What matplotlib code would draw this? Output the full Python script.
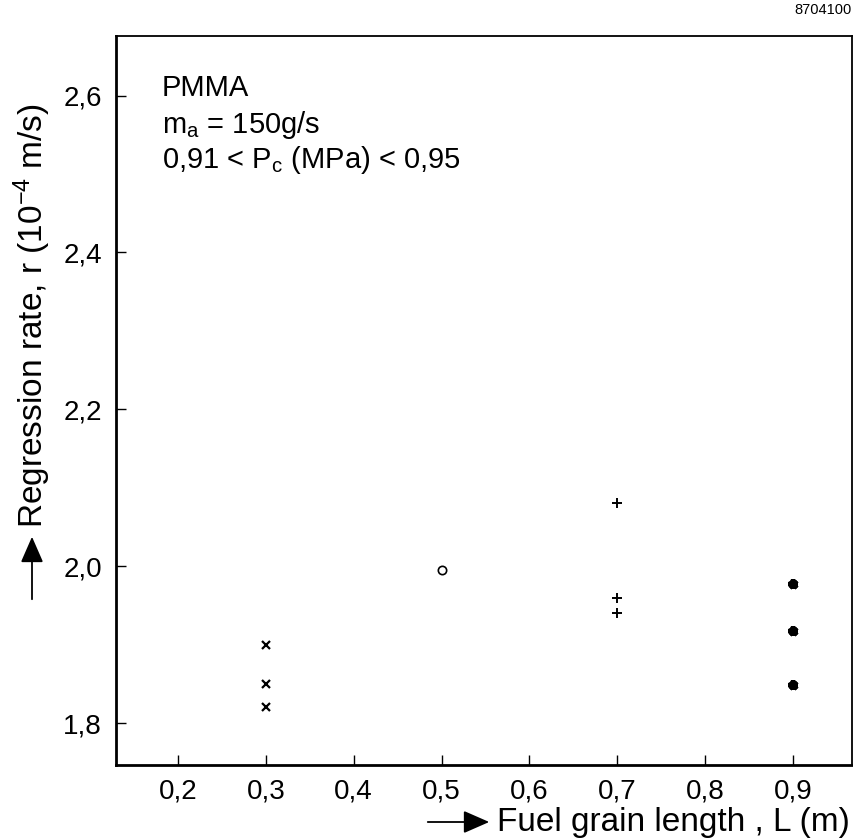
import matplotlib
matplotlib.use("Agg")
import matplotlib.pyplot as plt
from matplotlib.ticker import FixedLocator, FixedFormatter

FONT = ['Liberation Sans', 'DejaVu Sans']
plt.rcParams['font.family'] = FONT
plt.rcParams['mathtext.fontset'] = 'custom'
plt.rcParams['mathtext.rm'] = 'Liberation Sans'
plt.rcParams['mathtext.it'] = 'Liberation Sans'
plt.rcParams['mathtext.bf'] = 'Liberation Sans'

# data
x_cross = [0.3, 0.3, 0.3]
y_cross = [1.90, 1.85, 1.82]
x_circle = [0.5]
y_circle = [1.995]
x_plus = [0.7, 0.7, 0.7]
y_plus = [2.08, 1.96, 1.94]
x_star = [0.9, 0.9, 0.9]
y_star = [1.977, 1.917, 1.848]

xticks = [0.2, 0.3, 0.4, 0.5, 0.6, 0.7, 0.8, 0.9]
xticklabels = ["0,2", "0,3", "0,4", "0,5", "0,6", "0,7", "0,8", "0,9"]
yticks = [1.8, 2.0, 2.2, 2.4, 2.6]
yticklabels = ["1,8", "2,0", "2,2", "2,4", "2,6"]

W, H = 854, 838
fig = plt.figure(figsize=(W / 100, H / 100), dpi=100)
ax = fig.add_axes([116 / W, 1 - 765 / H, (852 - 116) / W, (765 - 36) / H])

ax.plot(x_cross, y_cross, linestyle='none', marker='x', ms=5.5, mew=1.6, color='black')
ax.plot(x_circle, y_circle, linestyle='none', marker='o', ms=6, mew=1.2,
        mfc='white', mec='black')
ax.plot(x_plus, y_plus, linestyle='none', marker='+', ms=7, mew=1.4, color='black')
ax.plot(x_star, y_star, linestyle='none', marker=(4, 2, 0), ms=7, mew=3.0, color='black')
ax.plot(x_star, y_star, linestyle='none', marker=(4, 2, 45), ms=7, mew=3.0, color='black')

ax.set_xlim(0.1295, 0.967)
ax.set_ylim(1.7465, 2.676)

ax.xaxis.set_major_locator(FixedLocator(xticks))
ax.xaxis.set_major_formatter(FixedFormatter(xticklabels))
ax.yaxis.set_major_locator(FixedLocator(yticks))
ax.yaxis.set_major_formatter(FixedFormatter(yticklabels))
ax.tick_params(direction='in', length=7, width=1.0, labelsize=20, pad=10,
               top=False, right=False)

for s in ['left', 'bottom']:
    ax.spines[s].set_linewidth(2.0)
for s in ['top', 'right']:
    ax.spines[s].set_linewidth(1.3)

# annotations inside
ax.text(162 / W, 1 - 88 / H, "PMMA", transform=fig.transFigure, fontsize=21,
        va='center', ha='left')
ax.text(162 / W, 1 - 125 / H, r"m$_{\mathregular{a}}$ = 150g/s", transform=fig.transFigure,
        fontsize=21, va='center', ha='left')
ax.text(162 / W, 1 - 160 / H, r"0,91 < P$_{\mathregular{c}}$ (MPa) < 0,95",
        transform=fig.transFigure, fontsize=21, va='center', ha='left')

# y label with arrow
fig.text(32 / W, 1 - 316 / H, r"Regression rate, r (10$^{-4}$ m/s)", rotation=90,
         fontsize=24, ha='center', va='center')
fig.patches.append(matplotlib.patches.FancyArrowPatch(
    (32 / W, 1 - 602 / H), (32 / W, 1 - 534 / H), transform=fig.transFigure,
    arrowstyle='-|>,head_length=0.8,head_width=0.35', mutation_scale=20,
    color='black', lw=1.3))

# x label with arrow
fig.text(497 / W, 1 - 822 / H, "Fuel grain length , L (m)", fontsize=24,
         ha='left', va='center')
fig.patches.append(matplotlib.patches.FancyArrowPatch(
    (425 / W, 1 - 822 / H), (492 / W, 1 - 822 / H), transform=fig.transFigure,
    arrowstyle='-|>,head_length=0.8,head_width=0.35', mutation_scale=20,
    color='black', lw=1.3))

fig.text(852 / W, 1 - 10 / H, "8704100", fontsize=10.5, ha='right', va='center')

fig.savefig("out.png", dpi=100)
